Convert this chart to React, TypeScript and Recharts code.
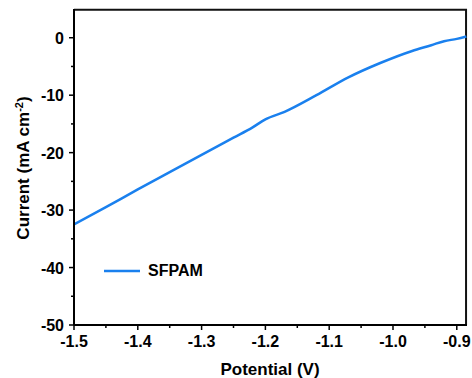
import { Legend, Line, LineChart, ReferenceLine, XAxis, YAxis } from "recharts";

const potential = [-1.5, -1.45, -1.4, -1.35, -1.3, -1.25, -1.22, -1.2, -1.17, -1.12, -1.07, -1.02, -0.97, -0.94, -0.92, -0.9, -0.885];
const current = [-32.5, -29.5, -26.4, -23.4, -20.4, -17.4, -15.6, -14.2, -12.9, -10.0, -6.9, -4.4, -2.3, -1.3, -0.6, -0.2, 0.2];

const xMajorTicks = [-1.5, -1.4, -1.3, -1.2, -1.1, -1.0, -0.9];
const xMinorTicks = [-1.45, -1.35, -1.25, -1.15, -1.05, -0.95];
const yMajorTicks = [-50, -40, -30, -20, -10, 0];
const yMinorTicks = [-45, -35, -25, -15, -5];
const xDomain = [-1.5, -0.884];
const yDomain = [-50, 5];
const frameTop = 4.85;
const frameRight = -0.8855;

const seriesName = "SFPAM";
const lineColor = "#1a80ee";
const frameColor = "#111";
const font = "'Liberation Sans', Arial, sans-serif";

const data = potential.map((v, i) => ({ potential: v, current: current[i] }));

const isMajor = (list: number[], v: number) => list.some((t) => Math.abs(t - v) < 1e-6);

const XTick = ({ x, y, payload }: any) => {
  const major = isMajor(xMajorTicks, payload.value);
  return (
    <g>
      <line x1={x} x2={x} y1={y} y2={y + (major ? 5 : 3)} stroke="#000" strokeWidth={1.5} />
      {major && (
        <text x={x} y={y + 22} textAnchor="middle" fontFamily={font} fontWeight="bold" fontSize={16} fill="#000">
          {payload.value.toFixed(1)}
        </text>
      )}
    </g>
  );
};

const YTick = ({ x, y, payload }: any) => {
  const major = isMajor(yMajorTicks, payload.value);
  return (
    <g>
      <line x1={x} x2={x - (major ? 5 : 3)} y1={y} y2={y} stroke="#000" strokeWidth={1.5} />
      {major && (
        <text x={x - 10} y={y + 6} textAnchor="end" fontFamily={font} fontWeight="bold" fontSize={16} fill="#000">
          {String(payload.value)}
        </text>
      )}
    </g>
  );
};

const renderLegend = () => (
  <div style={{ display: "flex", alignItems: "center", fontFamily: font, fontWeight: "bold", fontSize: 16 }}>
    <svg width={38} height={6} style={{ marginRight: 7 }}>
      <line x1={1} x2={37} y1={3} y2={3} stroke={lineColor} strokeWidth={2.5} />
    </svg>
    <span>{seriesName}</span>
  </div>
);

export default function App() {
  return (
    <div style={{ position: "absolute", left: 0, top: 0, width: 472, height: 378, background: "#fff" }}>
      <LineChart width={472} height={378} data={data} margin={{ top: 9, right: 5, bottom: 0, left: 14 }}>
        <XAxis
          dataKey="potential"
          type="number"
          domain={xDomain}
          allowDataOverflow
          ticks={[...xMajorTicks, ...xMinorTicks].sort((a, b) => a - b)}
          interval={0}
          tick={<XTick />}
          tickLine={false}
          tickSize={0}
          tickMargin={0}
          height={53}
          axisLine={{ stroke: "#000", strokeWidth: 2 }}
          label={{
            content: () => (
              <text x={270} y={375} textAnchor="middle" fontFamily={font} fontWeight="bold" fontSize={17} fill="#000">
                Potential (V)
              </text>
            ),
          }}
        />
        <YAxis
          type="number"
          domain={yDomain}
          allowDataOverflow
          ticks={[...yMajorTicks, ...yMinorTicks].sort((a, b) => a - b)}
          interval={0}
          tick={<YTick />}
          tickLine={false}
          tickSize={0}
          tickMargin={0}
          width={60}
          axisLine={{ stroke: "#000", strokeWidth: 2 }}
          label={{
            content: () => (
              <text
                x={29}
                y={168}
                transform="rotate(-90 29 168)"
                textAnchor="middle"
                fontFamily={font}
                fontWeight="bold"
                fontSize={17}
                fill="#000"
              >
                Current (mA cm
                <tspan dy={-6} fontSize={11}>-2</tspan>
                <tspan dy={6}>)</tspan>
              </text>
            ),
          }}
        />
        {/* top and right edges of the plot frame */}
        <ReferenceLine y={frameTop} stroke={frameColor} strokeWidth={2} ifOverflow="visible" />
        <ReferenceLine x={frameRight} stroke={frameColor} strokeWidth={2} ifOverflow="visible" />
        <Legend
          verticalAlign="middle"
          align="center"
          layout="horizontal"
          wrapperStyle={{ left: 103, top: 262, width: "auto" }}
          content={renderLegend}
        />
        <Line
          type="monotone"
          dataKey="current"
          name={seriesName}
          stroke={lineColor}
          strokeWidth={2.5}
          dot={false}
          isAnimationActive={false}
        />
      </LineChart>
    </div>
  );
}
